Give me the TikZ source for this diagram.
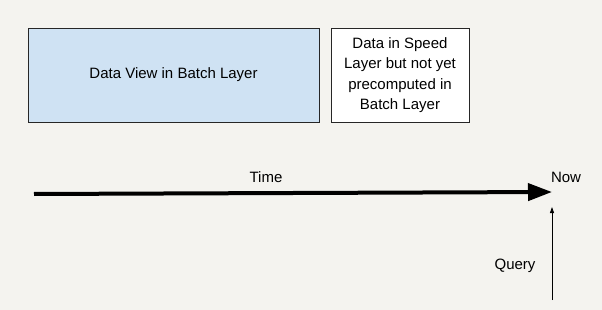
\documentclass[tikz,border=0pt]{standalone}
\usepackage{fontspec}
\setmainfont{Liberation Sans}
\usetikzlibrary{arrows.meta}
\definecolor{bg}{HTML}{F4F3EF}
\definecolor{boxblue}{HTML}{CFE2F3}
\begin{document}
\begin{tikzpicture}[x=1pt,y=-1pt,
  box/.style={draw=black!85,line width=0.8pt,inner sep=0pt,align=center,font=\fontsize{15}{20.5}\selectfont},
  lbl/.style={font=\fontsize{15}{18}\selectfont,inner sep=1pt}]
\fill[bg] (0,0) rectangle (602,310);
\useasboundingbox (0,0) rectangle (602,310);
\node[box,fill=boxblue,minimum width=291pt,minimum height=94pt] (batch) at (173.5,75) {Data View in Batch Layer};
\node[box,fill=white,minimum width=138pt,minimum height=94pt] (speed) at (400,75) {Data in Speed\\Layer but not yet\\precomputed in\\Batch Layer};
\coordinate (start) at (34,194);
\coordinate (now) at (552,192);
\draw[line width=4pt,-{Triangle[length=24pt,width=17pt]}] (start) -- (now);
\node[lbl] (time) at (266,177) {Time};
\node[lbl] (nowl) at (566,177) {Now};
\coordinate (qstart) at (552,300);
\coordinate (qend) at (552,207);
\draw[line width=0.8pt,-{Triangle[length=6pt,width=4pt]}] (qstart) -- (qend);
\node[lbl] (query) at (515,266) {Query};
\end{tikzpicture}
\end{document}
